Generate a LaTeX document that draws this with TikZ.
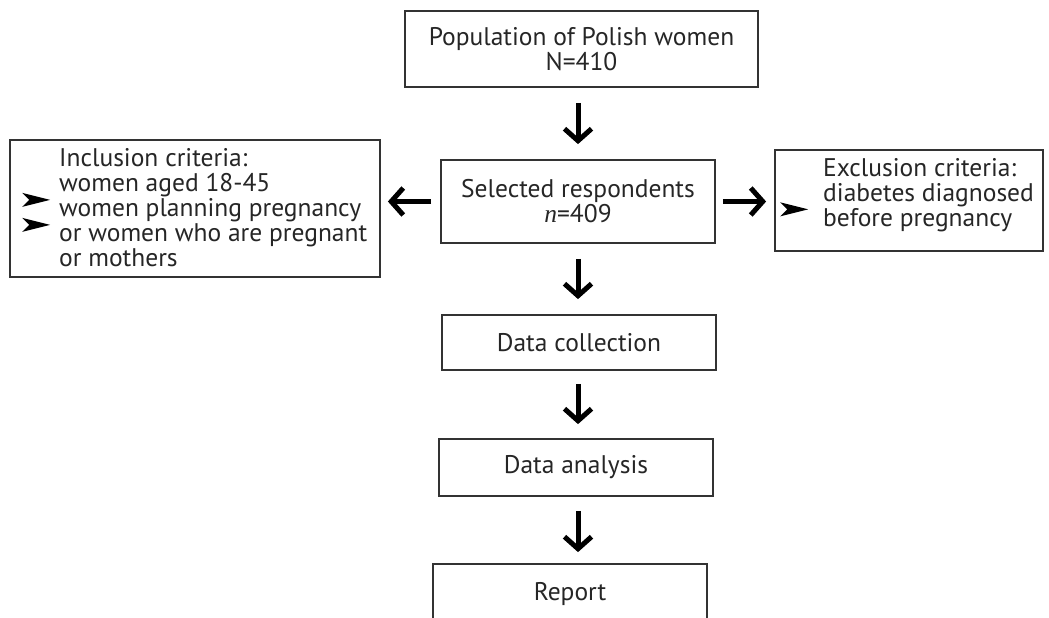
\documentclass[tikz,border=0pt]{standalone}
\usepackage{fontspec}
\setmainfont{PT Sans}
\newfontfamily\serifit{Liberation Serif}
\usetikzlibrary{arrows.meta}
\tikzset{
  box/.style={draw=black!80, line width=1.8pt, inner sep=0pt, font=\fontsize{25.5}{25}\selectfont, text=black!85, align=center},
  boxtext/.style={inner sep=0pt, font=\fontsize{25.5}{25}\selectfont, text=black!85, align=left, anchor=west},
  flow/.style={line width=5pt, -{Straight Barb[length=12pt,width=27pt]}, black},
}
\newcommand{\arrowbullet}{\smash{\tikz[x=1pt,y=1pt,baseline={(0,-8)}]\fill[black] (0,0)--(-28,7)--(-21,0)--(-28,-7)--cycle;}}
\begin{document}
\begin{tikzpicture}[x=1pt,y=-1pt]
\useasboundingbox (0,0) rectangle (1049,618);
\fill[white] (0,0) rectangle (1049,618);
% boxes
\node[box, minimum width=353pt, minimum height=76pt] (pop) at (581.5,49) {Population of Polish women\\N=410};
\node[box, minimum width=274pt, minimum height=83pt] (sel) at (578,201.5) {Selected respondents\\{\serifit\itshape n}=409};
\node[box, minimum width=370pt, minimum height=137pt] (incl) at (195,208.5) {};
\node[boxtext] (incltext) at (59,208) {Inclusion criteria:\\\llap{\arrowbullet\hspace{9pt}}women aged 18-45\\\llap{\arrowbullet\hspace{9pt}}women planning pregnancy\\or women who are pregnant\\or mothers};
\node[box, minimum width=268pt, minimum height=101pt] (excl) at (909,200.5) {};
\node[boxtext] (excltext) at (823,195) {Exclusion criteria:\\\llap{\arrowbullet\hspace{15pt}}diabetes diagnosed\\before pregnancy};
\node[box, minimum width=274pt, minimum height=55pt] (coll) at (579,342.5) {Data collection};
\node[box, minimum width=274pt, minimum height=57pt] (anal) at (576,467.5) {Data analysis};
\node[box, minimum width=274pt, minimum height=60pt] (rep) at (570,594) {Report};
% arrows
\draw[flow, shorten <=15pt, shorten >=15pt] (pop.south -| sel.north) -- (sel.north);
\draw[flow, shorten <=9pt, shorten >=7pt] (sel.west) -- (sel.west -| incl.east);
\draw[flow, shorten <=7pt, shorten >=8pt] (sel.east) -- (sel.east -| excl.west);
\draw[flow, shorten <=15pt, shorten >=15pt] (sel.south) -- (sel.south |- coll.north);
\draw[flow, shorten <=13pt, shorten >=14pt] (coll.south -| sel.south) -- (sel.south |- anal.north);
\draw[flow, shorten <=14pt, shorten >=11pt] (anal.south -| sel.south) -- (sel.south |- rep.north);
\end{tikzpicture}
\end{document}
